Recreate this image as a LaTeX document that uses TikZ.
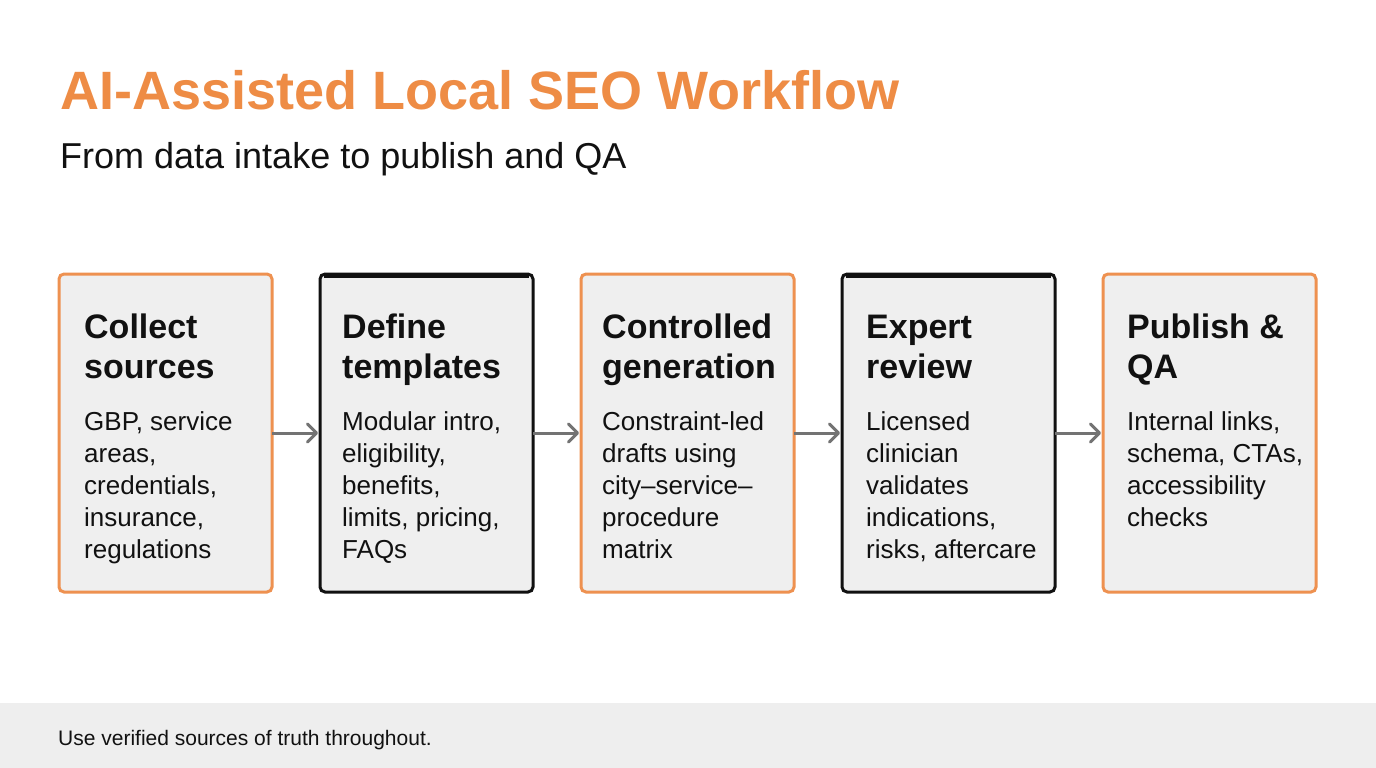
\documentclass[tikz,border=0pt]{standalone}
\usepackage{fontspec}
\setmainfont{Liberation Sans}
\usetikzlibrary{arrows.meta}
\definecolor{orng}{HTML}{EE8C45}
\definecolor{oborder}{HTML}{EE9150}
\definecolor{boxbg}{HTML}{EFEFEF}
\definecolor{footbg}{HTML}{EEEEEE}
\definecolor{arrgray}{HTML}{737373}
\definecolor{ink}{HTML}{111111}
\tikzset{
  stepcard/.style={rounded corners=5, line width=3, fill=boxbg, minimum width=213, minimum height=318, anchor=north west, inner sep=0, outer sep=0},
  ocard/.style={stepcard, draw=oborder},
  kcard/.style={stepcard, draw=ink},
  headtxt/.style={anchor=base west, inner sep=0, align=left, text=ink, font=\fontsize{34}{40}\selectfont\bfseries},
  bodytxt/.style={anchor=base west, inner sep=0, align=left, text=ink, font=\fontsize{26}{32}\selectfont},
  flow/.style={draw=arrgray, line width=3, -{Straight Barb[length=9,width=18,line width=3,round]}, shorten >=2}
}
\begin{document}
\begin{tikzpicture}[x=1pt,y=-1pt]
\useasboundingbox (0,0) rectangle (1376,768);
\fill[white] (0,0) rectangle (1376,768);
\fill[footbg] (0,703) rectangle (1376,768);

\node[anchor=base west, inner sep=0, text=orng, font=\fontsize{54}{60}\selectfont\bfseries] (title) at (60,110) {AI-Assisted Local SEO Workflow};
\node[anchor=base west, inner sep=0, text=ink, font=\fontsize{36}{42}\selectfont] (subtitle) at (60,168) {From data intake to publish and QA};

\node[ocard] (b1) at (59,274) {};
\node[kcard] (b2) at (320,274) {};
\node[ocard] (b3) at (581,274) {};
\node[kcard] (b4) at (842,274) {};
\node[ocard] (b5) at (1103,274) {};

\draw[ink, line width=5] ([xshift=4,yshift=-1]b2.north west) -- ([xshift=-4,yshift=-1]b2.north east);
\draw[ink, line width=5] ([xshift=4,yshift=-1]b4.north west) -- ([xshift=-4,yshift=-1]b4.north east);

% multi-line nodes: base anchor = last line's baseline
\node[headtxt] (h1) at (84,378) {Collect\\sources};
\node[headtxt] (h2) at (342,378) {Define\\templates};
\node[headtxt] (h3) at (602,378) {Controlled\\generation};
\node[headtxt] (h4) at (866,378) {Expert\\review};
\node[headtxt] (h5) at (1127,378) {Publish \&\\QA};

\node[bodytxt] (t1) at (84,558) {GBP, service\\areas,\\credentials,\\insurance,\\regulations};
\node[bodytxt] (t2) at (342,558) {Modular intro,\\eligibility,\\benefits,\\limits, pricing,\\FAQs};
\node[bodytxt] (t3) at (602,558) {Constraint-led\\drafts using\\city–service–\\procedure\\matrix};
\node[bodytxt] (t4) at (866,558) {Licensed\\clinician\\validates\\indications,\\risks, aftercare};
\node[bodytxt] (t5) at (1127,526) {Internal links,\\schema, CTAs,\\accessibility\\checks};

\draw[flow] (b1.east) -- (b2.west);
\draw[flow] (b2.east) -- (b3.west);
\draw[flow] (b3.east) -- (b4.west);
\draw[flow] (b4.east) -- (b5.west);

\node[anchor=base west, inner sep=0, text=ink, font=\fontsize{21}{25}\selectfont] (foot) at (58,745) {Use verified sources of truth throughout.};
\end{tikzpicture}
\end{document}
